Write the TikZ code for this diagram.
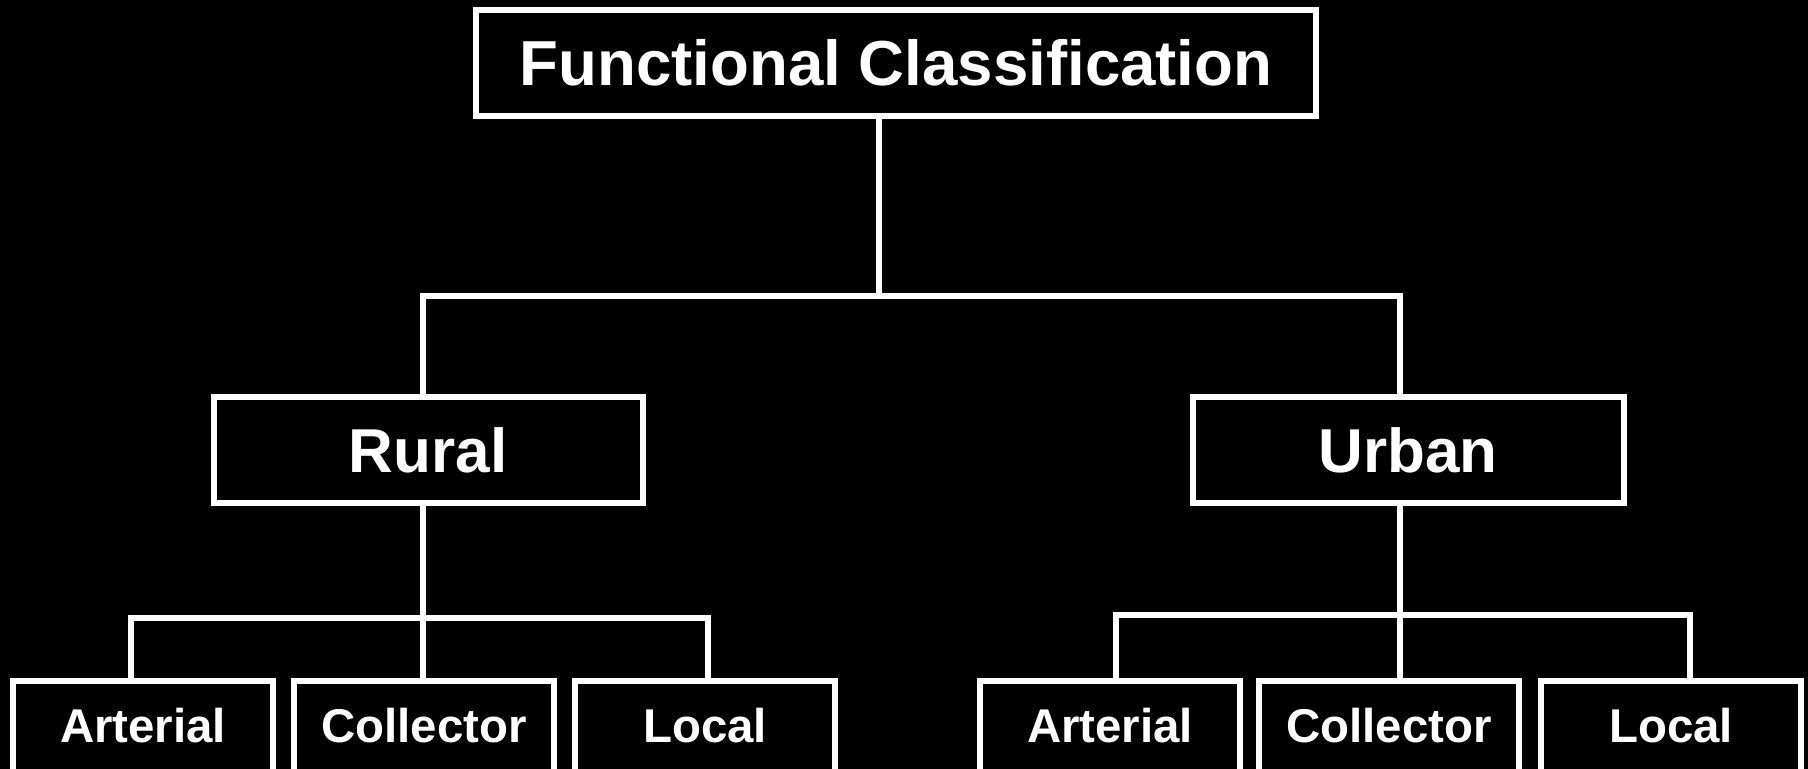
\documentclass[tikz,border=0pt]{standalone}
\usepackage{fontspec}
\setmainfont{Liberation Sans}
\usetikzlibrary{positioning}

\begin{document}
\begin{tikzpicture}[x=0.5pt,y=-0.5pt,
  box/.style={draw=white,line width=3pt,fill=black,text=white,
    font=\bfseries\fontsize{31}{36}\selectfont,inner sep=0pt,
    minimum height=53pt},
  leaf/.style={box,font=\bfseries\fontsize{23.7}{28}\selectfont,
    minimum width=130pt,minimum height=50pt,text depth=6pt},
  link/.style={draw=white,line width=3pt}]
  \useasboundingbox (0,0) rectangle (1808,768);
  \fill[black] (-20,-20) rectangle (1828,800);
  \node[box,minimum width=420pt,font=\bfseries\fontsize{31.8}{36}\selectfont]
    (fc) at (896,63) {Functional Classification};
  \node[box,minimum width=214.5pt] (rural) at (428,450) {Rural};
  \node[box,minimum width=215.5pt] (urban) at (1408,450) {Urban};
  \node[leaf] (rart) at (143,731) {Arterial};
  \node[leaf] (rcol) at (424,731) {Collector};
  \node[leaf] (rloc) at (705,731) {Local};
  \node[leaf] (uart) at (1110,731) {Arterial};
  \node[leaf] (ucol) at (1389,731) {Collector};
  \node[leaf] (uloc) at (1671,731) {Local};
  \coordinate (bus) at (879,296);
  \coordinate (rbus) at (423,618);
  \coordinate (ubus) at (1400,615);
  \draw[link] (fc.south -| bus) -- (bus);
  \draw[link] (rural.north -| rbus) |- (bus) -| (urban.north -| ubus);
  \draw[link] (rural.south -| rbus) -- (rbus);
  \draw[link] (rart.north -| 131,0) |- (rbus) -| (rloc.north -| 708,0);
  \draw[link] (rbus) -- (rcol.north -| rbus);
  \draw[link] (urban.south -| ubus) -- (ubus);
  \draw[link] (uart.north -| 1116,0) |- (ubus) -| (uloc.north -| 1690,0);
  \draw[link] (ubus) -- (ucol.north -| ubus);
\end{tikzpicture}
\end{document}
